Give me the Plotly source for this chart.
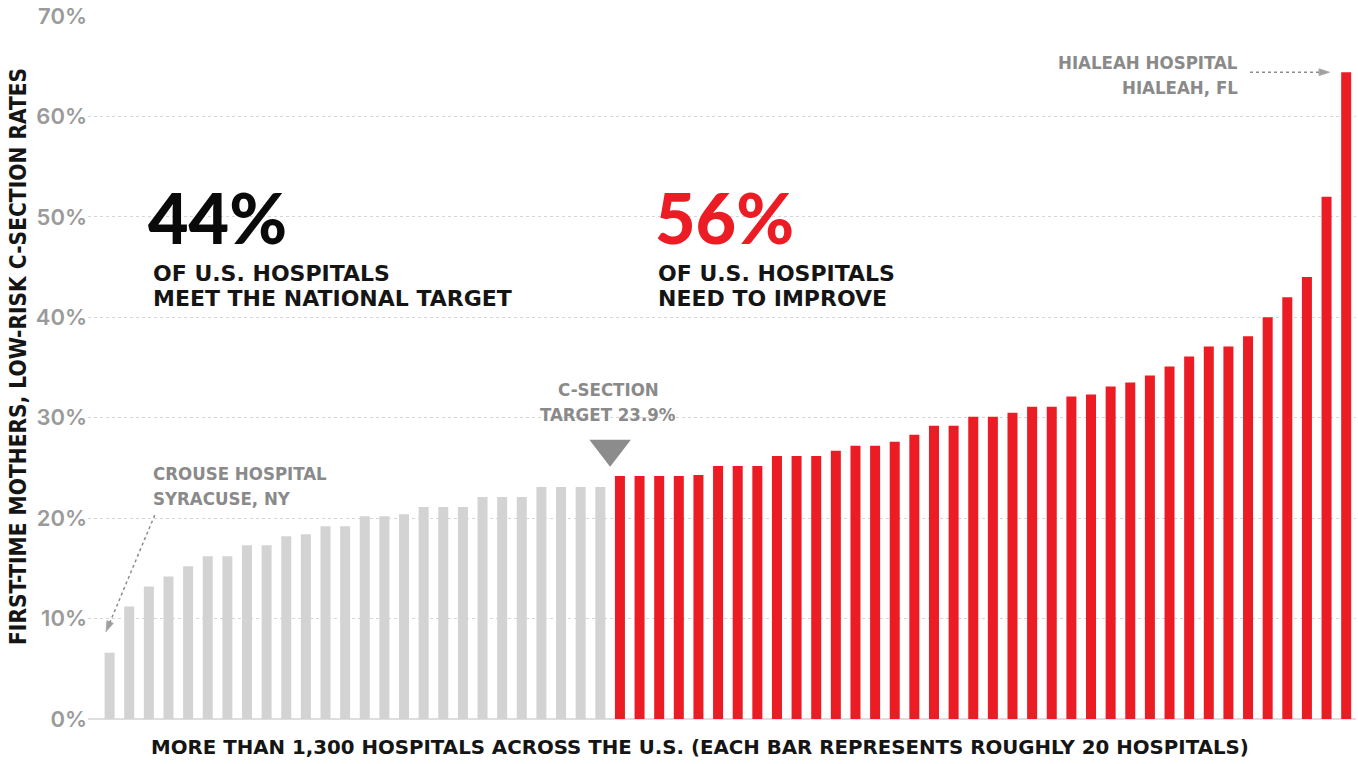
import plotly.graph_objects as go

# First-time mothers, low-risk C-section rates (%), one bar per ~20 hospitals, sorted
rates = [
    6.6, 11.2, 13.2, 14.2, 15.2, 16.2, 16.2, 17.3, 17.3, 18.2, 18.4, 19.2, 19.2,
    20.2, 20.2, 20.4, 21.1, 21.1, 21.1, 22.1, 22.1, 22.1, 23.1, 23.1, 23.1, 23.1,
    24.2, 24.2, 24.2, 24.2, 24.3, 25.2, 25.2, 25.2, 26.2, 26.2, 26.2, 26.7, 27.2,
    27.2, 27.6, 28.3, 29.2, 29.2, 30.1, 30.1, 30.5, 31.1, 31.1, 32.1, 32.3, 33.1,
    33.5, 34.2, 35.1, 36.1, 37.1, 37.1, 38.1, 40.0, 42.0, 44.0, 52.0, 64.4,
]
target = 23.9
share_meet = 44
share_improve = 56
y_ticks = [0, 10, 20, 30, 40, 50, 60, 70]
y_tick_labels = [f"{v}%" for v in y_ticks]

RED = "#ec1c24"
GRAY_BAR = "#d3d3d3"
LABEL_GRAY = "#8a8a8a"
DARK = "#151515"
NARROW = "Liberation Sans Narrow, DejaVu Sans Condensed, sans-serif"
WIDE = "DejaVu Sans, Verdana, sans-serif"
GEO = "Inter, Lato, sans-serif"
BIG = "Lato, Inter, sans-serif"

xs = list(range(len(rates)))
colors = [RED if r > target else GRAY_BAR for r in rates]
n_meet = sum(1 for r in rates if r <= target)

fig = go.Figure()
fig.add_trace(go.Bar(x=xs, y=rates, marker=dict(color=colors, line=dict(width=0)),
                     hoverinfo="skip"))

# target marker sitting between the last bar meeting the target and the first above it
fig.add_trace(go.Scatter(
    x=[n_meet - 0.5], y=[target + 3.0], mode="markers",
    marker=dict(symbol="triangle-down", size=36, color="#8c8c8c", line=dict(width=0)),
    hoverinfo="skip"))

# dotted leader to the lowest-rate hospital
fig.add_trace(go.Scatter(
    x=[2.3, -0.18], y=[20.3, 8.7], mode="lines+markers",
    line=dict(color="#8c8c8c", width=1.5, dash="dot"),
    marker=dict(symbol="arrow", size=[0, 11], angleref="previous", color="#777777"),
    hoverinfo="skip"))

# dotted leader to the highest-rate hospital
fig.add_trace(go.Scatter(
    x=[58.1, 62.15], y=[rates[-1], rates[-1]], mode="lines+markers",
    line=dict(color="#8c8c8c", width=1.5, dash="dot"),
    marker=dict(symbol="arrow", size=[0, 11], angleref="previous", color="#777777"),
    hoverinfo="skip"))


def note(text, x, y, size, color, family, xanchor="left", weight=700):
    fig.add_annotation(x=x, y=y, xref="x", yref="y", text=text, showarrow=False,
                       xanchor=xanchor, yanchor="middle",
                       font=dict(family=family, size=size, color=color, weight=weight))


note(f"{share_meet}%", 1.85, 50.0, 70, "#0a0a0a", BIG, weight=900)
note("OF U.S. HOSPITALS", 2.1, 44.4, 22, DARK, WIDE, weight=700)
note("MEET THE NATIONAL TARGET", 2.1, 41.9, 22, DARK, WIDE, weight=700)

note(f"{share_improve}%", 27.7, 50.0, 70, RED, BIG, weight=900)
note("OF U.S. HOSPITALS", 27.85, 44.4, 22, DARK, WIDE, weight=700)
note("NEED TO IMPROVE", 27.85, 41.9, 22, DARK, WIDE, weight=700)

note("C-SECTION", n_meet - 0.6, 32.8, 18.5, LABEL_GRAY, NARROW, xanchor="center")
note(f"TARGET {target}%", n_meet - 0.6, 30.3, 18.5, LABEL_GRAY, NARROW, xanchor="center")

note("CROUSE HOSPITAL", 2.1, 24.4, 18.5, LABEL_GRAY, NARROW)
note("SYRACUSE, NY", 2.1, 22.0, 18.5, LABEL_GRAY, NARROW)

note("HIALEAH HOSPITAL", 57.6, 65.4, 18.5, LABEL_GRAY, NARROW, xanchor="right")
note("HIALEAH, FL", 57.6, 62.9, 18.5, LABEL_GRAY, NARROW, xanchor="right")

fig.add_annotation(
    x=0.4826, y=-0.041, xref="paper", yref="paper", showarrow=False,
    text="MORE THAN 1,300 HOSPITALS ACROSS THE U.S. (EACH BAR REPRESENTS ROUGHLY 20 HOSPITALS)",
    xanchor="center", yanchor="middle",
    font=dict(family=WIDE, size=19.8, color=DARK, weight=700))

fig.add_annotation(
    x=-0.0552, y=0.515, xref="paper", yref="paper", showarrow=False, textangle=-90,
    text="FIRST-TIME MOTHERS, LOW-RISK C-SECTION RATES",
    xanchor="center", yanchor="middle",
    font=dict(family=NARROW, size=22.5, color=DARK, weight=700))

fig.update_layout(
    width=1358, height=764,
    margin=dict(l=88, r=2, t=16, b=45),
    paper_bgcolor="white", plot_bgcolor="white",
    showlegend=False, bargap=0.49,
    xaxis=dict(range=[-1.1, 63.5], showticklabels=False, showgrid=False,
               zeroline=False, showline=False, ticks=""),
    yaxis=dict(range=[0, 70], tickvals=y_ticks, ticktext=y_tick_labels,
               showgrid=True, gridcolor="#d6d6d6", griddash="dot", gridwidth=1,
               zeroline=True, zerolinecolor="#dedede", zerolinewidth=1.5,
               showline=False, ticks="",
               tickfont=dict(family=GEO, size=22, color="#9a9a9a", weight=600)),
)

fig.write_html("out.html")
